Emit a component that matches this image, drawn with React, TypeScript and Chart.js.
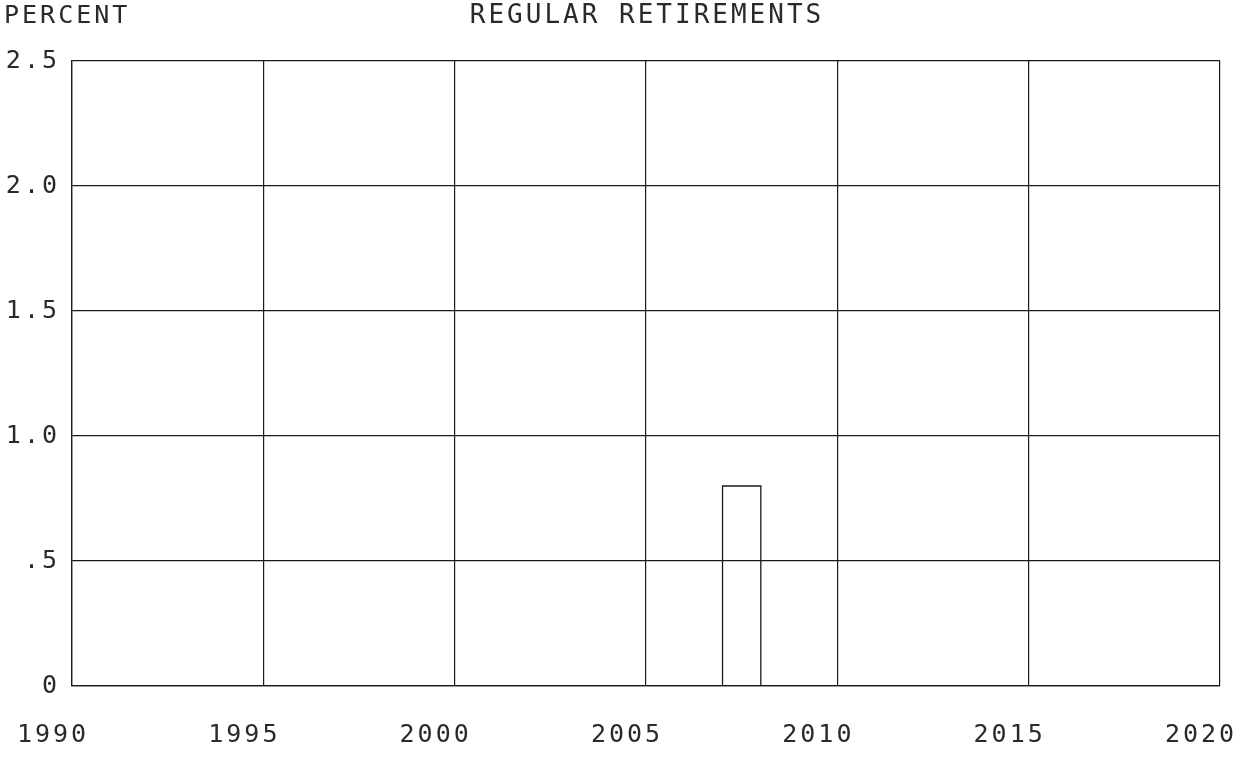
import React, { useEffect, useRef } from "react";
import { Chart, registerables } from "chart.js";

Chart.register(...registerables);

const chartTitle = "REGULAR RETIREMENTS";
const yAxisTitle = "PERCENT";
const years = [
  1990, 1991, 1992, 1993, 1994, 1995, 1996, 1997, 1998, 1999, 2000,
  2001, 2002, 2003, 2004, 2005, 2006, 2007, 2008, 2009, 2010,
  2011, 2012, 2013, 2014, 2015, 2016, 2017, 2018, 2019, 2020,
];
const retirements = [
  0, 0, 0, 0, 0, 0, 0, 0, 0, 0, 0,
  0, 0, 0, 0, 0, 0, 0.8, 0, 0, 0,
  0, 0, 0, 0, 0, 0, 0, 0, 0, 0,
];
const yTickValues = [0, 0.5, 1.0, 1.5, 2.0, 2.5];
const yTickLabels = ["0", ".5", "1.0", "1.5", "2.0", "2.5"];
const xTickLabels = ["1990", "1995", "2000", "2005", "2010", "2015", "2020"];

const FONT = "'DejaVu Sans Mono', monospace";
const INK = "#1a1a1a";
const TEXT_INK = "#2a2a2a";

export default function App() {
  const canvasRef = useRef<HTMLCanvasElement | null>(null);

  useEffect(() => {
    const canvas = canvasRef.current;
    if (!canvas) return;

    const textPlugin = {
      id: "plotterText",
      beforeDraw(chart: any) {
        (chart.ctx as any).letterSpacing = "3px";
      },
      afterDraw(chart: any) {
        const ctx = chart.ctx as CanvasRenderingContext2D;
        const area = chart.chartArea;
        ctx.save();
        (ctx as any).letterSpacing = "3px";
        ctx.fillStyle = TEXT_INK;
        ctx.textBaseline = "middle";
        ctx.font = `25px ${FONT}`;
        ctx.textAlign = "left";
        ctx.fillText(yAxisTitle, 4, 16);
        ctx.font = `26px ${FONT}`;
        ctx.textAlign = "center";
        ctx.fillText(chartTitle, (area.left + area.right) / 2 + 1, 16);
        ctx.restore();
      },
    };

    const chart = new Chart(canvas, {
      type: "line",
      data: {
        datasets: [
          {
            data: years.map((y, i) => ({ x: y, y: retirements[i] })),
            stepped: "before",
            borderColor: INK,
            borderWidth: 1.3,
            pointRadius: 0,
            fill: false,
          },
        ],
      },
      options: {
        animation: false,
        responsive: false,
        maintainAspectRatio: false,
        layout: { padding: { left: 0, right: 26, top: 61, bottom: 0 } },
        plugins: {
          legend: { display: false },
          tooltip: { enabled: false },
          title: { display: false },
        },
        scales: {
          x: {
            type: "linear",
            min: 1990,
            max: 2020,
            afterBuildTicks(scale: any) {
              scale.ticks = xTickLabels.map((l) => ({ value: Number(l) }));
            },
            afterFit(scale: any) {
              scale.height = 76;
              scale.paddingLeft = 0;
              scale.paddingRight = 0;
            },
            border: { display: true, color: INK, width: 1.3 },
            grid: { color: INK, lineWidth: 1.2, drawTicks: false },
            ticks: {
              color: TEXT_INK,
              font: { family: FONT, size: 25 },
              padding: 34,
              labelOffset: -19,
              maxRotation: 0,
              autoSkip: false,
              callback: (v: any) => {
                const i = xTickLabels.indexOf(String(v));
                return i >= 0 ? xTickLabels[i] : "";
              },
            },
          },
          y: {
            type: "linear",
            min: 0,
            max: 2.5,
            afterBuildTicks(scale: any) {
              scale.ticks = yTickValues.map((v) => ({ value: v }));
            },
            afterFit(scale: any) {
              scale.width = 72;
            },
            border: { display: true, color: INK, width: 1.3 },
            grid: { color: INK, lineWidth: 1.2, drawTicks: false },
            ticks: {
              color: TEXT_INK,
              font: { family: FONT, size: 25 },
              padding: 12,
              autoSkip: false,
              callback: (v: any) => {
                const i = yTickValues.findIndex((t) => Math.abs(t - Number(v)) < 1e-6);
                return i >= 0 ? yTickLabels[i] : "";
              },
            },
          },
        },
      },
      plugins: [textPlugin],
    } as any);

    return () => chart.destroy();
  }, []);

  return (
    <div
      style={{
        position: "fixed",
        left: 0,
        top: 0,
        width: 1246,
        height: 762,
        background: "#ffffff",
      }}
    >
      <canvas ref={canvasRef} width={1246} height={762} style={{ width: 1246, height: 762 }} />
    </div>
  );
}
